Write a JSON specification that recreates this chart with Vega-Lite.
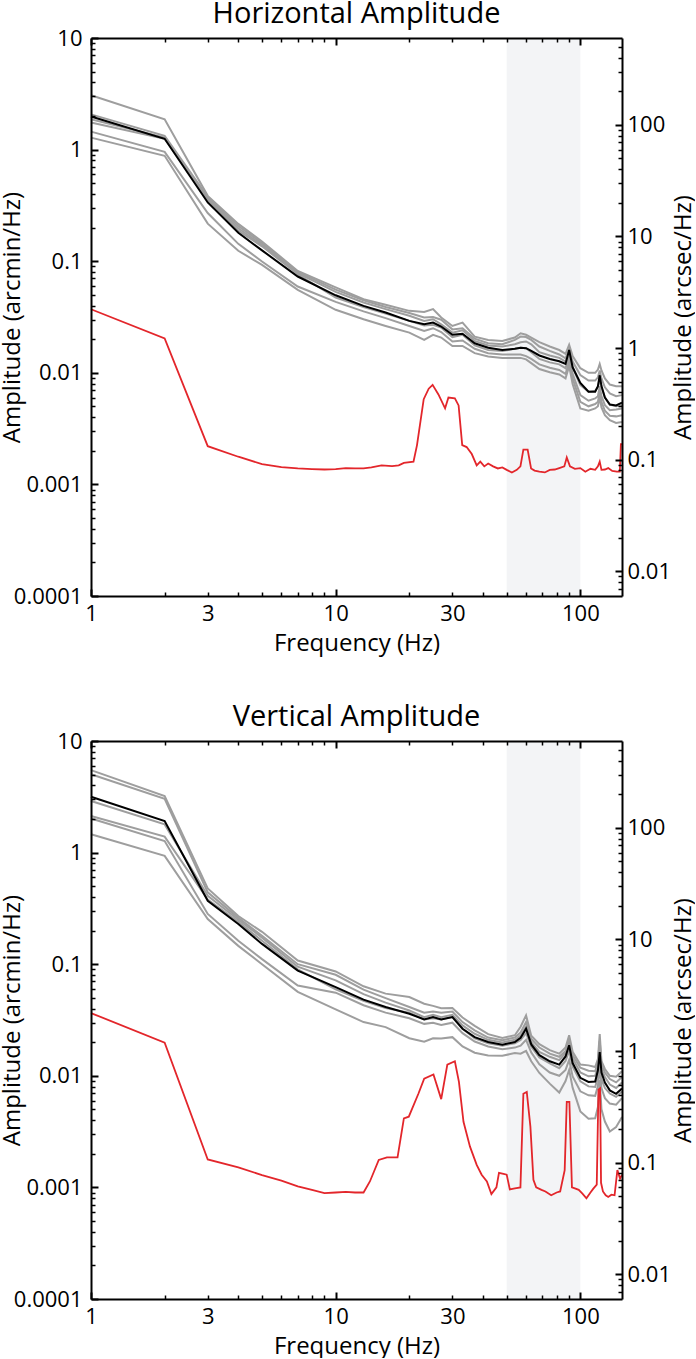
{
"$schema": "https://vega.github.io/schema/vega-lite/v6.json",
"padding": {"left": 0, "top": -1, "right": 0, "bottom": 0},
"spacing": 47,
"datasets": {
"d": [{"f": 1, "a": 0.0001, "b": 0.006}],
"g": [
{"f":1,"hA":3.07,"hB":2.07,"hC":1.87,"hD":1.75,"hE":1.45,"hF":1.28,"hk":1.98,"vA":5.48,"vB":5.03,"vC":2.9,"vD":2.13,"vE":2.02,"vF":1.46,"vk":3.17},
{"f":2,"hA":1.87,"hB":1.33,"hC":1.28,"hD":1.25,"hE":0.955,"hF":0.88,"hk":1.25,"vA":3.21,"vB":3.04,"vC":1.79,"vD":1.39,"vE":1.27,"vF":0.935,"vk":1.92},
{"f":3,"hA":0.385,"hB":0.377,"hC":0.365,"hD":0.354,"hE":0.27,"hF":0.217,"hk":0.336,"vA":0.478,"vB":0.44,"vC":0.41,"vD":0.38,"vE":0.282,"vF":0.254,"vk":0.37},
{"f":4,"hA":0.216,"hB":0.207,"hC":0.197,"hD":0.188,"hE":0.143,"hF":0.124,"hk":0.18,"vA":0.27,"vB":0.26,"vC":0.25,"vD":0.24,"vE":0.162,"vF":0.146,"vk":0.229},
{"f":5,"hA":0.15,"hB":0.145,"hC":0.14,"hD":0.136,"hE":0.0993,"hF":0.0927,"hk":0.125,"vA":0.195,"vB":0.18,"vC":0.173,"vD":0.162,"vE":0.111,"vF":0.1,"vk":0.152},
{"f":7,"hA":0.0818,"hB":0.08,"hC":0.0782,"hD":0.0764,"hE":0.0593,"hF":0.0553,"hk":0.0729,"vA":0.108,"vB":0.1,"vC":0.095,"vD":0.09,"vE":0.0645,"vF":0.0566,"vk":0.0877},
{"f":10,"hA":0.0582,"hB":0.0556,"hC":0.0531,"hD":0.0473,"hE":0.0432,"hF":0.0367,"hk":0.0495,"vA":0.0861,"vB":0.0804,"vC":0.0716,"vD":0.0596,"vE":0.0556,"vF":0.0394,"vk":0.0624},
{"f":13,"hA":0.0457,"hB":0.0447,"hC":0.0427,"hD":0.0389,"hE":0.0355,"hF":0.0302,"hk":0.0398,"vA":0.0634,"vB":0.0592,"vC":0.054,"vD":0.047,"vE":0.0429,"vF":0.0303,"vk":0.0481},
{"f":16,"hA":0.0407,"hB":0.0389,"hC":0.0372,"hD":0.0339,"hE":0.0309,"hF":0.0263,"hk":0.0347,"vA":0.0545,"vB":0.0497,"vC":0.0453,"vD":0.0404,"vE":0.0368,"vF":0.0273,"vk":0.0413},
{"f":20,"hA":0.0359,"hB":0.0343,"hC":0.0324,"hD":0.0292,"hE":0.0263,"hF":0.0229,"hk":0.0292,"vA":0.0508,"vB":0.0413,"vC":0.0385,"vD":0.0368,"vE":0.0328,"vF":0.0217,"vk":0.036},
{"f":23,"hA":0.0351,"hB":0.0313,"hC":0.0292,"hD":0.0266,"hE":0.0237,"hF":0.0197,"hk":0.0272,"vA":0.0442,"vB":0.0367,"vC":0.0335,"vD":0.032,"vE":0.0292,"vF":0.0202,"vk":0.032},
{"f":25,"hA":0.0372,"hB":0.0316,"hC":0.0302,"hD":0.0269,"hE":0.0251,"hF":0.0219,"hk":0.0282,"vA":0.0423,"vB":0.0377,"vC":0.0352,"vD":0.0328,"vE":0.0299,"vF":0.0217,"vk":0.0336},
{"f":27,"hA":0.0313,"hB":0.0299,"hC":0.0272,"hD":0.0254,"hE":0.0232,"hF":0.0207,"hk":0.026,"vA":0.0403,"vB":0.0367,"vC":0.0335,"vD":0.032,"vE":0.0285,"vF":0.0216,"vk":0.032},
{"f":30,"hA":0.0263,"hB":0.0245,"hC":0.0229,"hD":0.0209,"hE":0.0191,"hF":0.0174,"hk":0.0219,"vA":0.0404,"vB":0.0377,"vC":0.0352,"vD":0.0336,"vE":0.0299,"vF":0.0222,"vk":0.0336},
{"f":33,"hA":0.0282,"hB":0.0251,"hC":0.024,"hD":0.0219,"hE":0.0195,"hF":0.0174,"hk":0.0224,"vA":0.0333,"vB":0.0303,"vC":0.0283,"vD":0.0264,"vE":0.0241,"vF":0.0183,"vk":0.0264},
{"f":37,"hA":0.0211,"hB":0.0202,"hC":0.0193,"hD":0.0176,"hE":0.0164,"hF":0.015,"hk":0.0184,"vA":0.028,"vB":0.0255,"vC":0.0238,"vD":0.0217,"vE":0.0203,"vF":0.0161,"vk":0.0222},
{"f":42,"hA":0.0197,"hB":0.0184,"hC":0.0176,"hD":0.016,"hE":0.015,"hF":0.014,"hk":0.0168,"vA":0.0236,"vB":0.022,"vC":0.021,"vD":0.0196,"vE":0.0183,"vF":0.0152,"vk":0.0201},
{"f":48,"hA":0.0193,"hB":0.018,"hC":0.0172,"hD":0.0157,"hE":0.0146,"hF":0.0136,"hk":0.016,"vA":0.0218,"vB":0.0208,"vC":0.0199,"vD":0.0186,"vE":0.0173,"vF":0.0151,"vk":0.019},
{"f":54,"hA":0.0207,"hB":0.0197,"hC":0.018,"hD":0.0164,"hE":0.0146,"hF":0.0136,"hk":0.0164,"vA":0.0231,"vB":0.022,"vC":0.021,"vD":0.0196,"vE":0.0179,"vF":0.016,"vk":0.0201},
{"f":57,"hA":0.0226,"hB":0.0211,"hC":0.0188,"hD":0.0168,"hE":0.0146,"hF":0.0136,"hk":0.0168,"vA":0.0275,"vB":0.0245,"vC":0.0229,"vD":0.0209,"vE":0.0186,"vF":0.0158,"vk":0.0219},
{"f":60,"hA":0.0219,"hB":0.0209,"hC":0.0191,"hD":0.0166,"hE":0.0141,"hF":0.0132,"hk":0.0166,"vA":0.0348,"vB":0.0303,"vC":0.0277,"vD":0.0241,"vE":0.021,"vF":0.0167,"vk":0.0264},
{"f":63,"hA":0.0207,"hB":0.0197,"hC":0.018,"hD":0.0153,"hE":0.0133,"hF":0.0122,"hk":0.0157,"vA":0.0229,"vB":0.0214,"vC":0.02,"vD":0.0182,"vE":0.0162,"vF":0.0135,"vk":0.0191},
{"f":68,"hA":0.0188,"hB":0.0172,"hC":0.0153,"hD":0.0133,"hE":0.0119,"hF":0.0108,"hk":0.0143,"vA":0.0192,"vB":0.0179,"vC":0.0164,"vD":0.0146,"vE":0.0127,"vF":0.0106,"vk":0.0153},
{"f":75,"hA":0.0172,"hB":0.0157,"hC":0.0143,"hD":0.0124,"hE":0.0111,"hF":0.0101,"hk":0.0133,"vA":0.017,"vB":0.0158,"vC":0.0148,"vD":0.0129,"vE":0.0107,"vF":0.00851,"vk":0.0135},
{"f":82,"hA":0.016,"hB":0.0146,"hC":0.0136,"hD":0.0119,"hE":0.0106,"hF":0.00966,"hk":0.0127,"vA":0.0158,"vB":0.0148,"vC":0.0138,"vD":0.0117,"vE":0.01,"vF":0.00708,"vk":0.0126},
{"f":87,"hA":0.0148,"hB":0.0135,"hC":0.0126,"hD":0.011,"hE":0.00977,"hF":0.00891,"hk":0.012,"vA":0.0179,"vB":0.0167,"vC":0.016,"vD":0.0136,"vE":0.0113,"vF":0.00898,"vk":0.0149},
{"f":90,"hA":0.0178,"hB":0.0162,"hC":0.0151,"hD":0.0138,"hE":0.0126,"hF":0.0115,"hk":0.016,"vA":0.0231,"vB":0.021,"vC":0.0192,"vD":0.0167,"vE":0.0139,"vF":0.0113,"vk":0.0188},
{"f":93,"hA":0.0141,"hB":0.0126,"hC":0.0112,"hD":0.00977,"hE":0.00891,"hF":0.00794,"hk":0.0112,"vA":0.0164,"vB":0.0153,"vC":0.0143,"vD":0.0121,"vE":0.00987,"vF":0.00783,"vk":0.013},
{"f":100,"hA":0.011,"hB":0.00955,"hC":0.00776,"hD":0.00631,"hE":0.0055,"hF":0.00479,"hk":0.0081,"vA":0.0126,"vB":0.0118,"vC":0.0107,"vD":0.00893,"vE":0.00726,"vF":0.0048,"vk":0.0096},
{"f":108,"hA":0.01,"hB":0.00851,"hC":0.00676,"hD":0.00562,"hE":0.00501,"hF":0.00457,"hk":0.00676,"vA":0.0124,"vB":0.0111,"vC":0.00989,"vD":0.00804,"vE":0.00668,"vF":0.00412,"vk":0.0088},
{"f":115,"hA":0.01,"hB":0.00851,"hC":0.00692,"hD":0.00589,"hE":0.00525,"hF":0.00479,"hk":0.00676,"vA":0.012,"vB":0.011,"vC":0.01,"vD":0.00794,"vE":0.00661,"vF":0.00417,"vk":0.0089},
{"f":118,"hA":0.0107,"hB":0.00912,"hC":0.00741,"hD":0.00617,"hE":0.0055,"hF":0.00501,"hk":0.0076,"vA":0.0141,"vB":0.0132,"vC":0.012,"vD":0.00977,"vE":0.00813,"vF":0.00525,"vk":0.0112},
{"f":120,"hA":0.012,"hB":0.0105,"hC":0.00891,"hD":0.00759,"hE":0.00676,"hF":0.00603,"hk":0.0095,"vA":0.0236,"vB":0.0206,"vC":0.0179,"vD":0.0146,"vE":0.0124,"vF":0.00918,"vk":0.0163},
{"f":122,"hA":0.0105,"hB":0.00891,"hC":0.00741,"hD":0.00617,"hE":0.0055,"hF":0.0049,"hk":0.0076,"vA":0.0135,"vB":0.0126,"vC":0.0115,"vD":0.00933,"vE":0.00776,"vF":0.00501,"vk":0.0107},
{"f":126,"hA":0.00891,"hB":0.00741,"hC":0.00603,"hD":0.00513,"hE":0.00457,"hF":0.00417,"hk":0.006,"vA":0.0115,"vB":0.0107,"vC":0.00977,"vD":0.00776,"vE":0.00631,"vF":0.00389,"vk":0.0087},
{"f":132,"hA":0.00785,"hB":0.00653,"hC":0.00519,"hD":0.00462,"hE":0.00412,"hF":0.00376,"hk":0.0052,"vA":0.01,"vB":0.00935,"vC":0.00834,"vD":0.00693,"vE":0.00564,"vF":0.00317,"vk":0.0074},
{"f":140,"hA":0.00759,"hB":0.00617,"hC":0.00501,"hD":0.00468,"hE":0.00407,"hF":0.00355,"hk":0.0051,"vA":0.0098,"vB":0.00873,"vC":0.00778,"vD":0.00647,"vE":0.00551,"vF":0.00348,"vk":0.0069},
{"f":148,"hA":0.00759,"hB":0.00631,"hC":0.00513,"hD":0.00479,"hE":0.00417,"hF":0.00363,"hk":0.0054,"vA":0.011,"vB":0.00977,"vC":0.00871,"vD":0.00724,"vE":0.00631,"vF":0.00427,"vk":0.0077}
],
"rh": [
{"f":1,"r":0.0371},{"f":2,"r":0.0203},{"f":3,"r":0.0022},{"f":4,"r":0.00177},{"f":5,"r":0.00152},{"f":6,"r":0.00143},{"f":7,"r":0.00139},{"f":8,"r":0.00137},{"f":9,"r":0.00136},{"f":10,"r":0.00137},{"f":11,"r":0.0014},{"f":12,"r":0.00139},{"f":13,"r":0.00139},{"f":14,"r":0.00142},{"f":15.4,"r":0.00148},{"f":17,"r":0.00146},{"f":18.1,"r":0.00148},{"f":19,"r":0.00156},{"f":20.8,"r":0.0016},{"f":21.5,"r":0.00225},{"f":22.9,"r":0.0058},{"f":24,"r":0.0072},{"f":24.9,"r":0.0078},{"f":26.3,"r":0.0064},{"f":28,"r":0.0048},{"f":28.9,"r":0.006},{"f":30.7,"r":0.0059},{"f":31.8,"r":0.0051},{"f":32.9,"r":0.00225},{"f":34.3,"r":0.00216},{"f":36,"r":0.00187},{"f":37.7,"r":0.00148},{"f":39,"r":0.0016},{"f":40.5,"r":0.00145},{"f":42,"r":0.00154},{"f":44,"r":0.00145},{"f":46,"r":0.00139},{"f":48,"r":0.00142},{"f":50,"r":0.00135},{"f":52.5,"r":0.00128},{"f":55,"r":0.00135},{"f":56.9,"r":0.00145},{"f":58.5,"r":0.00205},{"f":60.9,"r":0.00205},{"f":62.9,"r":0.00139},{"f":65,"r":0.00133},{"f":68,"r":0.0013},{"f":71.6,"r":0.00128},{"f":75,"r":0.00135},{"f":78.6,"r":0.00136},{"f":82,"r":0.0014},{"f":86,"r":0.00145},{"f":88,"r":0.00174},{"f":90.7,"r":0.00145},{"f":95,"r":0.00138},{"f":100,"r":0.0014},{"f":104.8,"r":0.0013},{"f":110,"r":0.00138},{"f":115,"r":0.00135},{"f":118,"r":0.00145},{"f":120,"r":0.0016},{"f":122,"r":0.00135},{"f":126,"r":0.00136},{"f":130,"r":0.0014},{"f":135,"r":0.00132},{"f":141,"r":0.0013},{"f":145,"r":0.0013},{"f":146.5,"r":0.0023},{"f":148,"r":0.0023}
],
"rv": [
{"f":1,"r":0.0365},{"f":2,"r":0.0198},{"f":3,"r":0.00178},{"f":4,"r":0.00151},{"f":5,"r":0.00129},{"f":6,"r":0.00115},{"f":7,"r":0.00102},{"f":8,"r":0.00095},{"f":9,"r":0.00089},{"f":10,"r":0.0009},{"f":11,"r":0.00091},{"f":12,"r":0.0009},{"f":13,"r":0.0009},{"f":13.8,"r":0.00113},{"f":15,"r":0.00176},{"f":16.2,"r":0.00186},{"f":17.9,"r":0.00186},{"f":19,"r":0.00415},{"f":19.9,"r":0.0043},{"f":21.8,"r":0.00694},{"f":23,"r":0.00944},{"f":25.1,"r":0.0103},{"f":27,"r":0.00618},{"f":28.6,"r":0.0126},{"f":30.7,"r":0.0135},{"f":31.9,"r":0.00883},{"f":33.3,"r":0.00387},{"f":35.4,"r":0.00232},{"f":37.7,"r":0.00159},{"f":39.5,"r":0.0013},{"f":41.5,"r":0.00113},{"f":43.3,"r":0.00087},{"f":45.4,"r":0.001},{"f":46.5,"r":0.00135},{"f":48.5,"r":0.00132},{"f":50,"r":0.0013},{"f":51.5,"r":0.00096},{"f":54,"r":0.00098},{"f":56.9,"r":0.001},{"f":58.5,"r":0.0069},{"f":60.4,"r":0.00718},{"f":62.5,"r":0.0035},{"f":64.3,"r":0.00117},{"f":66,"r":0.001},{"f":69.4,"r":0.00095},{"f":72,"r":0.00092},{"f":76,"r":0.00085},{"f":80,"r":0.0009},{"f":82.7,"r":0.00092},{"f":86.3,"r":0.00143},{"f":88,"r":0.00584},{"f":90.2,"r":0.00584},{"f":92.4,"r":0.001},{"f":95,"r":0.00098},{"f":98.5,"r":0.00095},{"f":102,"r":0.00088},{"f":105.9,"r":0.0008},{"f":110,"r":0.0009},{"f":112.8,"r":0.00097},{"f":116.7,"r":0.00106},{"f":118.6,"r":0.0075},{"f":120.4,"r":0.0077},{"f":121.5,"r":0.0011},{"f":123.7,"r":0.00092},{"f":127,"r":0.00085},{"f":130,"r":0.00082},{"f":134,"r":0.00086},{"f":138,"r":0.00085},{"f":141.7,"r":0.00143},{"f":145.3,"r":0.0012},{"f":148,"r":0.0013}
]
},
"vconcat": [
{
"title": {"text": "Horizontal Amplitude", "anchor": "middle", "frame": "group", "offset": -24.5, "baseline": "alphabetic"},
"width": 531, "height": 558,
"layer": [
{"layer": [
{"data": {"values": [{"a": 50, "b": 100}]}, "mark": {"type": "rect", "color": "#f3f4f6"},
"encoding": {"x": {"field": "a", "type": "quantitative", "scale": {"type": "log", "domain": [1, 148], "nice": false}, "axis": null}, "x2": {"field": "b"}}},
{"data": {"name": "g"}, "transform": [{"fold": ["hA", "hB", "hC", "hD", "hE", "hF"], "as": ["s", "v"]}],
"mark": {"type": "line", "color": "#9e9e9e", "strokeWidth": 2},
"encoding": {"x": {"field": "f", "type": "quantitative", "scale": {"type": "log", "domain": [1, 148], "nice": false}, "axis": null},
"y": {"field": "v", "type": "quantitative", "scale": {"type": "log", "domain": [0.0001, 10], "nice": false}, "axis": null},
"detail": {"field": "s"}}},
{"data": {"name": "g"}, "mark": {"type": "line", "color": "#000000", "strokeWidth": 2},
"encoding": {"x": {"field": "f", "type": "quantitative", "scale": {"type": "log", "domain": [1, 148], "nice": false}, "axis": null},
"y": {"field": "hk", "type": "quantitative", "scale": {"type": "log", "domain": [0.0001, 10], "nice": false}, "axis": null}}},
{"data": {"name": "rh"}, "mark": {"type": "line", "color": "#e3262b", "strokeWidth": 1.8},
"encoding": {"x": {"field": "f", "type": "quantitative", "scale": {"type": "log", "domain": [1, 148], "nice": false}, "axis": null},
"y": {"field": "r", "type": "quantitative", "scale": {"type": "log", "domain": [0.0001, 10], "nice": false}, "axis": null}}}
]},
{"data": {"name": "d"}, "mark": {"type": "point", "opacity": 0},
"encoding": {"x": {"field": "f", "type": "quantitative", "scale": {"type": "log", "domain": [1, 148], "nice": false},
"axis": {"orient": "bottom", "values": [1, 10, 100], "format": "~g", "tickSize": -7, "tickWidth": 2, "labelPadding": 14.6, "labelFlush": false, "labelOverlap": false, "domain": true, "domainWidth": 2, "zindex": 1, "title": "Frequency (Hz)", "titleX": 265.5, "titleY": 54, "titleBaseline": "alphabetic", "titleAlign": "center"}},
"y": {"field": "a", "type": "quantitative", "scale": {"type": "log", "domain": [0.0001, 10], "nice": false},
"axis": {"orient": "left", "values": [0.0001, 0.001, 0.01, 0.1, 1, 10], "format": "~g", "tickSize": -7, "tickWidth": 2, "labelPadding": 16, "labelOverlap": false, "domain": true, "domainWidth": 2, "zindex": 1, "title": "Amplitude (arcmin/Hz)", "titleX": -79, "titleY": 279, "titleAngle": 270, "titleAlign": "center", "titleBaseline": "middle"}}}},
{"data": {"name": "d"}, "mark": {"type": "point", "opacity": 0},
"encoding": {"x": {"field": "f", "type": "quantitative", "scale": {"type": "log", "domain": [1, 148], "nice": false},
"axis": {"orient": "bottom", "values": [2, 3, 4, 5, 6, 7, 8, 9, 20, 30, 40, 50, 60, 70, 80, 90], "format": "~g", "labelExpr": "datum.value == 3 || datum.value == 30 ? datum.label : ''", "tickSize": -4, "tickWidth": 1.5, "labelPadding": 11.6, "labelFlush": false, "labelOverlap": false, "domain": false, "zindex": 1, "title": null}},
"y": {"field": "a", "type": "quantitative", "scale": {"type": "log", "domain": [0.0001, 10], "nice": false},
"axis": {"orient": "left", "values": [0.0002,0.0003,0.0004,0.0005,0.0006,0.0007,0.0008,0.0009,0.002,0.003,0.004,0.005,0.006,0.007,0.008,0.009,0.02,0.03,0.04,0.05,0.06,0.07,0.08,0.09,0.2,0.3,0.4,0.5,0.6,0.7,0.8,0.9,2,3,4,5,6,7,8,9], "labels": false, "tickSize": -4, "tickWidth": 1.5, "domain": false, "zindex": 1, "title": null}}}},
{"data": {"name": "d"}, "mark": {"type": "point", "opacity": 0},
"encoding": {"x": {"field": "f", "type": "quantitative", "scale": {"type": "log", "domain": [1, 148], "nice": false},
"axis": {"orient": "top", "values": [1, 10, 100], "labels": false, "tickSize": -7, "tickWidth": 2, "domain": true, "domainWidth": 2, "zindex": 1, "title": null}},
"y": {"field": "b", "type": "quantitative", "scale": {"type": "log", "domain": [0.006, 600], "nice": false},
"axis": {"orient": "right", "values": [0.01, 0.1, 1, 10, 100], "format": "~g", "tickSize": -7, "tickWidth": 2, "labelPadding": 12, "labelOverlap": false, "domain": true, "domainWidth": 2, "zindex": 1, "title": "Amplitude (arcsec/Hz)", "titleX": 61, "titleY": 279, "titleAngle": 270, "titleAlign": "center", "titleBaseline": "middle"}}}},
{"data": {"name": "d"}, "mark": {"type": "point", "opacity": 0},
"encoding": {"x": {"field": "f", "type": "quantitative", "scale": {"type": "log", "domain": [1, 148], "nice": false},
"axis": {"orient": "top", "values": [2, 3, 4, 5, 6, 7, 8, 9, 20, 30, 40, 50, 60, 70, 80, 90], "labels": false, "tickSize": -4, "tickWidth": 1.5, "domain": false, "zindex": 1, "title": null}},
"y": {"field": "b", "type": "quantitative", "scale": {"type": "log", "domain": [0.006, 600], "nice": false},
"axis": {"orient": "right", "values": [0.007,0.008,0.009,0.02,0.03,0.04,0.05,0.06,0.07,0.08,0.09,0.2,0.3,0.4,0.5,0.6,0.7,0.8,0.9,2,3,4,5,6,7,8,9,20,30,40,50,60,70,80,90,200,300,400,500], "labels": false, "tickSize": -4, "tickWidth": 1.5, "domain": false, "zindex": 1, "title": null}}}}
],
"resolve": {"scale": {"y": "independent"}, "axis": {"x": "independent", "y": "independent"}}
},
{
"title": {"text": "Vertical Amplitude", "anchor": "middle", "frame": "group", "offset": -24.5, "baseline": "alphabetic"},
"width": 531, "height": 558,
"layer": [
{"layer": [
{"data": {"values": [{"a": 50, "b": 100}]}, "mark": {"type": "rect", "color": "#f3f4f6"},
"encoding": {"x": {"field": "a", "type": "quantitative", "scale": {"type": "log", "domain": [1, 148], "nice": false}, "axis": null}, "x2": {"field": "b"}}},
{"data": {"name": "g"}, "transform": [{"fold": ["vA", "vB", "vC", "vD", "vE", "vF"], "as": ["s", "v"]}],
"mark": {"type": "line", "color": "#9e9e9e", "strokeWidth": 2},
"encoding": {"x": {"field": "f", "type": "quantitative", "scale": {"type": "log", "domain": [1, 148], "nice": false}, "axis": null},
"y": {"field": "v", "type": "quantitative", "scale": {"type": "log", "domain": [0.0001, 10], "nice": false}, "axis": null},
"detail": {"field": "s"}}},
{"data": {"name": "g"}, "mark": {"type": "line", "color": "#000000", "strokeWidth": 2},
"encoding": {"x": {"field": "f", "type": "quantitative", "scale": {"type": "log", "domain": [1, 148], "nice": false}, "axis": null},
"y": {"field": "vk", "type": "quantitative", "scale": {"type": "log", "domain": [0.0001, 10], "nice": false}, "axis": null}}},
{"data": {"name": "rv"}, "mark": {"type": "line", "color": "#e3262b", "strokeWidth": 1.8},
"encoding": {"x": {"field": "f", "type": "quantitative", "scale": {"type": "log", "domain": [1, 148], "nice": false}, "axis": null},
"y": {"field": "r", "type": "quantitative", "scale": {"type": "log", "domain": [0.0001, 10], "nice": false}, "axis": null}}}
]},
{"data": {"name": "d"}, "mark": {"type": "point", "opacity": 0},
"encoding": {"x": {"field": "f", "type": "quantitative", "scale": {"type": "log", "domain": [1, 148], "nice": false},
"axis": {"orient": "bottom", "values": [1, 10, 100], "format": "~g", "tickSize": -7, "tickWidth": 2, "labelPadding": 14.6, "labelFlush": false, "labelOverlap": false, "domain": true, "domainWidth": 2, "zindex": 1, "title": "Frequency (Hz)", "titleX": 265.5, "titleY": 54, "titleBaseline": "alphabetic", "titleAlign": "center"}},
"y": {"field": "a", "type": "quantitative", "scale": {"type": "log", "domain": [0.0001, 10], "nice": false},
"axis": {"orient": "left", "values": [0.0001, 0.001, 0.01, 0.1, 1, 10], "format": "~g", "tickSize": -7, "tickWidth": 2, "labelPadding": 16, "labelOverlap": false, "domain": true, "domainWidth": 2, "zindex": 1, "title": "Amplitude (arcmin/Hz)", "titleX": -79, "titleY": 279, "titleAngle": 270, "titleAlign": "center", "titleBaseline": "middle"}}}},
{"data": {"name": "d"}, "mark": {"type": "point", "opacity": 0},
"encoding": {"x": {"field": "f", "type": "quantitative", "scale": {"type": "log", "domain": [1, 148], "nice": false},
"axis": {"orient": "bottom", "values": [2, 3, 4, 5, 6, 7, 8, 9, 20, 30, 40, 50, 60, 70, 80, 90], "format": "~g", "labelExpr": "datum.value == 3 || datum.value == 30 ? datum.label : ''", "tickSize": -4, "tickWidth": 1.5, "labelPadding": 11.6, "labelFlush": false, "labelOverlap": false, "domain": false, "zindex": 1, "title": null}},
"y": {"field": "a", "type": "quantitative", "scale": {"type": "log", "domain": [0.0001, 10], "nice": false},
"axis": {"orient": "left", "values": [0.0002,0.0003,0.0004,0.0005,0.0006,0.0007,0.0008,0.0009,0.002,0.003,0.004,0.005,0.006,0.007,0.008,0.009,0.02,0.03,0.04,0.05,0.06,0.07,0.08,0.09,0.2,0.3,0.4,0.5,0.6,0.7,0.8,0.9,2,3,4,5,6,7,8,9], "labels": false, "tickSize": -4, "tickWidth": 1.5, "domain": false, "zindex": 1, "title": null}}}},
{"data": {"name": "d"}, "mark": {"type": "point", "opacity": 0},
"encoding": {"x": {"field": "f", "type": "quantitative", "scale": {"type": "log", "domain": [1, 148], "nice": false},
"axis": {"orient": "top", "values": [1, 10, 100], "labels": false, "tickSize": -7, "tickWidth": 2, "domain": true, "domainWidth": 2, "zindex": 1, "title": null}},
"y": {"field": "b", "type": "quantitative", "scale": {"type": "log", "domain": [0.006, 600], "nice": false},
"axis": {"orient": "right", "values": [0.01, 0.1, 1, 10, 100], "format": "~g", "tickSize": -7, "tickWidth": 2, "labelPadding": 12, "labelOverlap": false, "domain": true, "domainWidth": 2, "zindex": 1, "title": "Amplitude (arcsec/Hz)", "titleX": 61, "titleY": 279, "titleAngle": 270, "titleAlign": "center", "titleBaseline": "middle"}}}},
{"data": {"name": "d"}, "mark": {"type": "point", "opacity": 0},
"encoding": {"x": {"field": "f", "type": "quantitative", "scale": {"type": "log", "domain": [1, 148], "nice": false},
"axis": {"orient": "top", "values": [2, 3, 4, 5, 6, 7, 8, 9, 20, 30, 40, 50, 60, 70, 80, 90], "labels": false, "tickSize": -4, "tickWidth": 1.5, "domain": false, "zindex": 1, "title": null}},
"y": {"field": "b", "type": "quantitative", "scale": {"type": "log", "domain": [0.006, 600], "nice": false},
"axis": {"orient": "right", "values": [0.007,0.008,0.009,0.02,0.03,0.04,0.05,0.06,0.07,0.08,0.09,0.2,0.3,0.4,0.5,0.6,0.7,0.8,0.9,2,3,4,5,6,7,8,9,20,30,40,50,60,70,80,90,200,300,400,500], "labels": false, "tickSize": -4, "tickWidth": 1.5, "domain": false, "zindex": 1, "title": null}}}}
],
"resolve": {"scale": {"y": "independent"}, "axis": {"x": "independent", "y": "independent"}}
}
],
"config": {
"view": {"stroke": null},
"font": "Open Sans",
"axis": {"grid": false, "minExtent": 0, "labelFont": "Open Sans", "titleFont": "Open Sans", "labelFontSize": 22, "titleFontSize": 24, "titleFontWeight": "normal", "labelColor": "#000000", "titleColor": "#000000", "tickColor": "#000000", "domainColor": "#000000"},
"axisX": {"minExtent": 0},
"axisY": {"minExtent": 0},
"title": {"font": "Open Sans", "fontSize": 29, "fontWeight": "normal", "color": "#000000"}
}
}
